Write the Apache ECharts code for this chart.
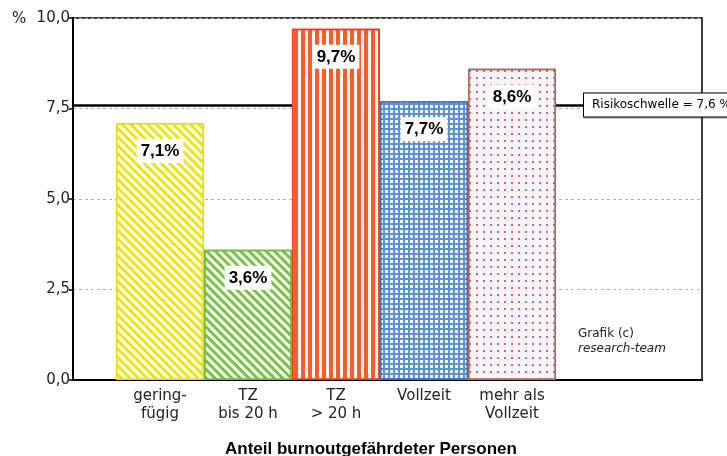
<!DOCTYPE html>
<html>
<head>
<meta charset="utf-8">
<script src="https://cdn.jsdelivr.net/npm/echarts@6/dist/echarts.min.js"></script>
<style>html,body{margin:0;padding:0;background:#fff}#c{width:727px;height:456px}</style>
</head>
<body>
<div id="c"></div>
<script>
// ---- data ----
const categories = ['gering-\nfügig', 'TZ\nbis 20 h', 'TZ\n> 20 h', 'Vollzeit', 'mehr als\nVollzeit'];
const values = [7.1, 3.6, 9.7, 7.7, 8.6];
const threshold = 7.6;
const thresholdLabel = 'Risikoschwelle = 7,6 %';
const yMin = 0, yMax = 10, yInterval = 2.5;
const titleText = 'Anteil burnoutgefährdeter Personen';
const unitText = '%';
const creditLine1 = 'Grafik (c)';
const creditLine2 = 'research-team';

// ---- styles ----
const FONT = 'DejaVu Sans';
const BOLDFONT = 'Liberation Sans';
const barStyles = [
  { color: '#fffff2', borderColor: '#e8de12', decal: { symbol: 'rect', symbolSize: 1, color: '#ece31c', dashArrayX: [1, 0], dashArrayY: [3, 3], rotation: Math.PI / 4 } },
  { color: '#f8fff2', borderColor: '#74b640', decal: { symbol: 'rect', symbolSize: 1, color: '#7cc04a', dashArrayX: [1, 0], dashArrayY: [3, 3], rotation: Math.PI / 4 } },
  { color: '#fff6f2', borderColor: '#f03a1e', decal: { symbol: 'rect', symbolSize: 1, color: '#f25e2c', dashArrayX: [4, 3], dashArrayY: [1, 0], rotation: 0 } },
  { color: '#5a92d8', borderColor: '#3a6fc0', decal: { symbol: 'rect', symbolSize: 1, color: '#ffffff', dashArrayX: [3, 2], dashArrayY: [3, 2], rotation: 0 } },
  { color: '#f7f5fb', borderColor: '#b06a5c', decal: { symbol: 'rect', symbolSize: 1, color: '#d46a5a', dashArrayX: [2, 5], dashArrayY: [2, 5], rotation: 0 } }
];

const fmt = v => v.toFixed(1).replace('.', ',');

const chart = echarts.init(document.getElementById('c'), null, { renderer: 'canvas' });
chart.setOption({
  animation: false,
  backgroundColor: '#fff',
  textStyle: { fontFamily: FONT },
  title: [
    { text: titleText, left: 225, top: 441, padding: 0,
      textStyle: { fontFamily: BOLDFONT, fontSize: 17, fontWeight: 'bold', color: '#000' } },
    { text: unitText, left: 12, top: 12, padding: 0,
      textStyle: { fontFamily: FONT, fontSize: 15, fontWeight: 'normal', color: '#222' } },
    { text: creditLine1, subtext: creditLine2, left: 578, top: 328, padding: 0, itemGap: 3,
      textStyle: { fontFamily: FONT, fontSize: 12, fontWeight: 'normal', color: '#222' },
      subtextStyle: { fontFamily: FONT, fontSize: 12, fontStyle: 'italic', color: '#222' } }
  ],
  grid: [
    { left: 73, right: 25, top: 18, bottom: 76, show: true, borderColor: '#000', borderWidth: 1.5, backgroundColor: 'transparent' },
    { left: 116, right: 171, top: 18, bottom: 76 }
  ],
  xAxis: [
    { gridIndex: 0, type: 'value', min: 0, max: 1,
      axisLine: { show: true, onZero: false, lineStyle: { color: '#000', width: 2 } },
      axisTick: { show: false }, axisLabel: { show: false }, splitLine: { show: false } },
    { gridIndex: 1, type: 'category', data: categories, boundaryGap: true,
      axisLine: { show: false }, axisTick: { show: false }, splitLine: { show: false },
      axisLabel: { fontFamily: FONT, fontSize: 15, color: '#222', lineHeight: 18, margin: 7, interval: 0 } }
  ],
  yAxis: [
    { gridIndex: 0, type: 'value', min: yMin, max: yMax, interval: yInterval,
      axisLine: { show: true, lineStyle: { color: '#000', width: 2 } },
      axisTick: { show: true, length: 4, lineStyle: { color: '#000', width: 1.5 } },
      axisLabel: { fontFamily: FONT, fontSize: 15, color: '#222', margin: 3, formatter: v => fmt(v) },
      splitLine: { show: true, lineStyle: { color: '#b0b0b0', type: [3, 3], width: 1 } } },
    { gridIndex: 1, type: 'value', min: yMin, max: yMax, show: false, splitLine: { show: false } }
  ],
  series: [
    { type: 'line', xAxisIndex: 0, yAxisIndex: 0, data: [], silent: true, z: 1,
      markLine: {
        z: 1,
        silent: true, symbol: ['none', 'none'], animation: false,
        lineStyle: { color: '#000', width: 2.5, type: 'solid' },
        label: { show: true, position: 'end', distance: -118, formatter: thresholdLabel,
          fontFamily: FONT, fontSize: 12, color: '#000', backgroundColor: '#fff',
          borderColor: '#000', borderWidth: 1, padding: [6, 8, 5, 8],
          shadowColor: 'rgba(0,0,0,0.4)', shadowOffsetX: 1, shadowOffsetY: 1, shadowBlur: 1 },
        data: [{ yAxis: threshold }]
      } },
    { type: 'bar', xAxisIndex: 1, yAxisIndex: 1, barCategoryGap: 0, z: 3,
      data: values.map((v, i) => ({
        value: v,
        itemStyle: { color: barStyles[i].color, borderColor: barStyles[i].borderColor, borderWidth: 1.5, decal: barStyles[i].decal }
      })),
      label: { show: true, position: 'insideTop', distance: 16,
        formatter: p => fmt(p.value) + '%',
        fontFamily: BOLDFONT, fontSize: 17, fontWeight: 'bold', color: '#000',
        backgroundColor: '#fff', padding: [4, 4, 3, 4] } }
  ]
});
</script>
</body>
</html>
